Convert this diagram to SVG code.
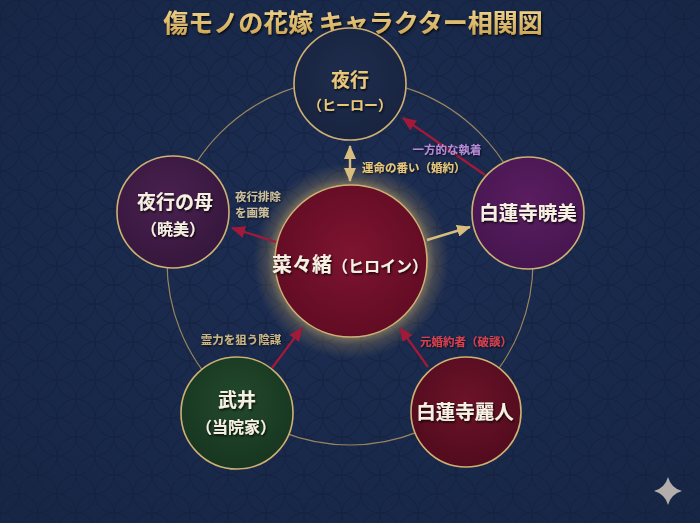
<svg xmlns="http://www.w3.org/2000/svg" width="700" height="523" viewBox="0 0 700 523">
<style>
.jp{font-family:"Noto Sans CJK JP","Noto Sans CJK SC",sans-serif;font-weight:700}
.name{fill:#f6f0e2;text-anchor:middle;filter:url(#sh)}
.gold{fill:#e8c77a}
.lbl{font-size:11.5px;filter:url(#sh2)}
.ring{fill:none;stroke:#b99b62;stroke-width:1.2;opacity:.8}
.bd{stroke:#cfb073;stroke-width:1.6}
.red{stroke:#a3193a;stroke-width:2.2;fill:none}
.gl{stroke:#d8bd7e;stroke-width:2.4;fill:none}
</style>
<defs>
<pattern id="shippo" width="38" height="38" patternUnits="userSpaceOnUse">
<g fill="none" stroke="#111c38" stroke-width="1.3" opacity=".45">
<circle cx="0" cy="0" r="19"/><circle cx="38" cy="0" r="19"/><circle cx="0" cy="38" r="19"/><circle cx="38" cy="38" r="19"/><circle cx="19" cy="19" r="19"/>
</g>
</pattern>
<radialGradient id="bg" cx="50%" cy="45%" r="70%">
<stop offset="0" stop-color="#1d2e54"/><stop offset="1" stop-color="#172645"/>
</radialGradient>
<radialGradient id="gTop" cx="50%" cy="45%" r="55%"><stop offset="0" stop-color="#1f2d4e"/><stop offset="1" stop-color="#18243f"/></radialGradient>
<radialGradient id="gMom" cx="45%" cy="40%" r="60%"><stop offset="0" stop-color="#4a2150"/><stop offset="1" stop-color="#36173d"/></radialGradient>
<radialGradient id="gAke" cx="50%" cy="40%" r="60%"><stop offset="0" stop-color="#5a1d60"/><stop offset="1" stop-color="#461650"/></radialGradient>
<radialGradient id="gNan" cx="50%" cy="45%" r="55%"><stop offset="0" stop-color="#7e1430"/><stop offset="1" stop-color="#620c24"/></radialGradient>
<radialGradient id="gTak" cx="50%" cy="40%" r="60%"><stop offset="0" stop-color="#23492c"/><stop offset="1" stop-color="#173620"/></radialGradient>
<radialGradient id="gRei" cx="50%" cy="40%" r="60%"><stop offset="0" stop-color="#6c1328"/><stop offset="1" stop-color="#520b1e"/></radialGradient>
<radialGradient id="glow" cx="50%" cy="50%" r="50%">
<stop offset="0.76" stop-color="#e8c77a" stop-opacity=".5"/><stop offset="0.86" stop-color="#c9a35a" stop-opacity=".22"/><stop offset="1" stop-color="#c9a35a" stop-opacity="0"/>
</radialGradient>
<linearGradient id="tg" x1="0" y1="0" x2="0" y2="1"><stop offset="0" stop-color="#f6dc98"/><stop offset="1" stop-color="#c9a04c"/></linearGradient>
<filter id="sh" x="-20%" y="-30%" width="140%" height="160%"><feDropShadow dx="1" dy="1.5" stdDeviation="1.2" flood-color="#000" flood-opacity=".85"/></filter>
<filter id="sh2" x="-20%" y="-30%" width="140%" height="160%"><feDropShadow dx="0.8" dy="1" stdDeviation="0.8" flood-color="#000" flood-opacity=".8"/></filter>
<marker id="mRed" markerUnits="userSpaceOnUse" markerWidth="14" markerHeight="12" refX="13" refY="6" orient="auto"><path d="M0,0 L14,6 L0,12 Z" fill="#a3193a"/></marker>
<marker id="mGold" markerUnits="userSpaceOnUse" markerWidth="14" markerHeight="12" refX="13" refY="6" orient="auto"><path d="M0,0 L14,6 L0,12 Z" fill="#d8bd7e"/></marker>
<marker id="mGoldS" markerUnits="userSpaceOnUse" markerWidth="14" markerHeight="12" refX="1" refY="6" orient="auto"><path d="M14,0 L0,6 L14,12 Z" fill="#d8bd7e"/></marker>
</defs>
<rect width="700" height="523" fill="url(#bg)"/>
<rect width="700" height="523" fill="url(#shippo)"/>
<text class="jp" x="353" y="32" font-size="25" text-anchor="middle" fill="url(#tg)" filter="url(#sh)">傷モノの花嫁 キャラクター相関図</text>
<circle class="ring" cx="350" cy="262" r="183"/>
<circle cx="351" cy="261" r="98" fill="url(#glow)"/>
<g id="connectors">
<line class="gl" x1="350" y1="146" x2="350" y2="181" marker-start="url(#mGoldS)" marker-end="url(#mGold)"/>
<line class="red" x1="485" y1="175" x2="403" y2="118" marker-end="url(#mRed)"/>
<line class="red" x1="276" y1="242" x2="232" y2="228" marker-end="url(#mRed)"/>
<line class="gl" x1="427" y1="240" x2="470" y2="227" marker-end="url(#mGold)"/>
<line class="red" x1="272" y1="368" x2="302" y2="328" marker-end="url(#mRed)"/>
<line class="red" x1="428" y1="367" x2="400" y2="328" marker-end="url(#mRed)"/>
<text class="jp lbl gold" x="362" y="172">運命の番い（婚約）</text>
<text class="jp lbl" x="447" y="154" text-anchor="middle" fill="#b58ad6">一方的な執着</text>
<text class="jp lbl" x="235" y="201" font-size="10.5" fill="#cbbf9c">夜行排除</text>
<text class="jp lbl" x="235" y="217" font-size="10.5" fill="#cbbf9c">を画策</text>
<text class="jp lbl" x="241" y="344" text-anchor="middle" fill="#c9b583">霊力を狙う陰謀</text>
<text class="jp lbl" x="466" y="346" text-anchor="middle" fill="#d8404e">元婚約者（破談）</text>
</g>
<g id="node-yako">
<circle class="bd" cx="350" cy="84" r="56" fill="url(#gTop)"/>
<text class="jp name" x="350" y="87" font-size="19" style="fill:#e8c77a">夜行</text>
<text class="jp name" x="350" y="110" font-size="14" style="fill:#e8c77a">（ヒーロー）</text>
</g>
<g id="node-haha">
<circle class="bd" cx="173" cy="212" r="56" fill="url(#gMom)"/>
<text class="jp name" x="175" y="209" font-size="19">夜行の母</text>
<text class="jp name" x="173" y="235" font-size="16">（暁美）</text>
</g>
<g id="node-akemi">
<circle class="bd" cx="528" cy="213" r="56" fill="url(#gAke)"/>
<text class="jp name" x="528" y="220" font-size="19.5">白蓮寺暁美</text>
</g>
<g id="node-nanao">
<circle class="bd" cx="351" cy="261" r="76" fill="url(#gNan)"/>
<text class="jp name" x="350" y="272"><tspan font-size="20">菜々緒</tspan><tspan font-size="16">（ヒロイン）</tspan></text>
</g>
<g id="node-takei">
<circle class="bd" cx="237" cy="413" r="56" fill="url(#gTak)"/>
<text class="jp name" x="237" y="407" font-size="19">武井</text>
<text class="jp name" x="236" y="433" font-size="16">（当院家）</text>
</g>
<g id="node-reito">
<circle class="bd" cx="466" cy="412" r="55" fill="url(#gRei)"/>
<text class="jp name" x="465" y="419" font-size="19.5">白蓮寺麗人</text>
</g>
<path d="M668,477 Q671,488 682,491 Q671,494 668,505 Q665,494 654,491 Q665,488 668,477 Z" fill="#b3aeab"/>
</svg>
